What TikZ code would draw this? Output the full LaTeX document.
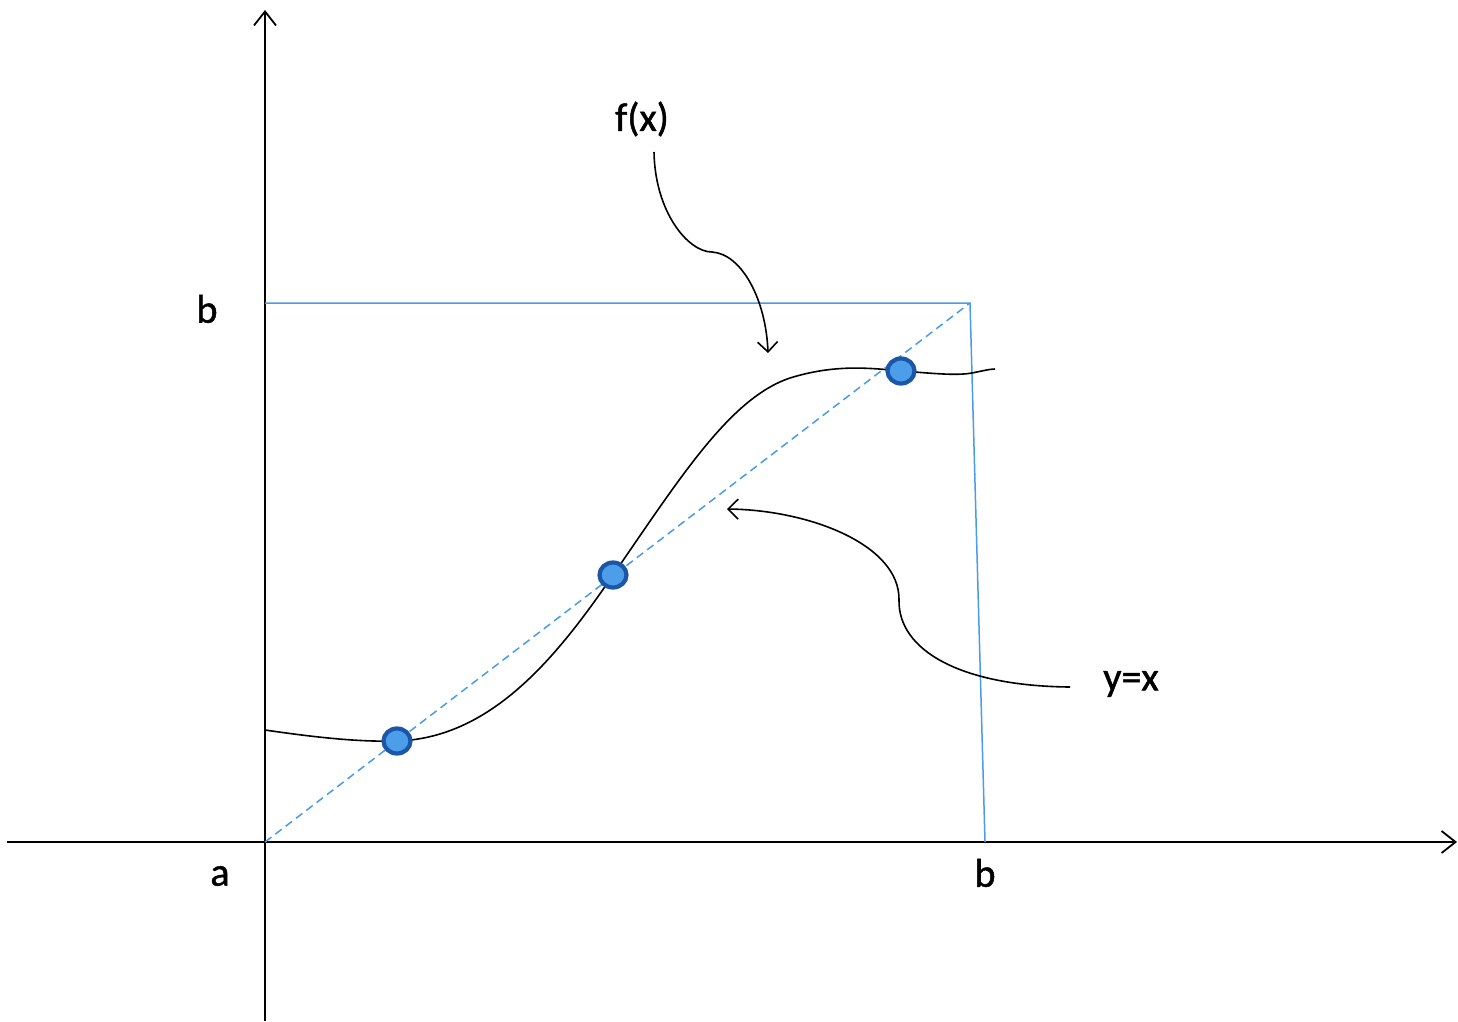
\documentclass[tikz,border=0pt]{standalone}
\usepackage{fontspec}
\setmainfont{Carlito}
\newfontfamily\lblfont{Carlito}[FakeBold=1.2]
\usepackage{tikz}
\usetikzlibrary{arrows.meta,positioning,shapes.geometric}
\definecolor{lineblue}{HTML}{4A9BE8}
\definecolor{dotfill}{HTML}{4C9EEB}
\definecolor{dotrim}{HTML}{1C56A6}
\tikzset{
  axis/.style={line width=1.8pt,-{Straight Barb[length=14pt,width=22pt,line width=1.8pt]}},
  lbl/.style={font=\lblfont\fontsize{40}{46}\selectfont,inner sep=0pt},
  pt/.style={ellipse,draw=dotrim,fill=dotfill,line width=4.2pt,minimum width=27pt,minimum height=25pt,inner sep=0pt},
  sq/.style={draw=lineblue,line width=1.5pt},
  diag/.style={draw=lineblue,line width=1.5pt,dash pattern=on 8pt off 5pt},
  fcurve/.style={line width=1.6pt},
  callout/.style={line width=1.6pt,-{Straight Barb[length=10pt,width=20pt,line width=1.6pt]}},
}

\begin{document}
\begin{tikzpicture}[x=1pt,y=-1pt]
\useasboundingbox (0,0) rectangle (1458,1021);
% axes
\coordinate (o) at (265,842);
\coordinate (xl) at (7,842);
\coordinate (xr) at (1457,842);
\coordinate (yb) at (265,1021);
\coordinate (yt) at (265,10);
\draw[axis] (xl) -- (xr);
\draw[axis] (yb) -- (yt);
% box and diagonal
\coordinate (bt) at (265,303);
\coordinate (c) at (970,303);
\coordinate (bx) at (985,842);
\draw[sq] (bt) -- (c) -- (bx);
\draw[diag] (o) -- (c);
% labels
\node[lbl] (la) at (220,876) {a};
\node[lbl] (lbx) at (985,873) {b};
\node[lbl] (lby) at (207,309) {b};
\node[lbl] (lf) at (642,119) {f(x)};
\node[lbl] (ly) at (1131,684) {y=x};
% the function
\coordinate (f0) at (265,730);
\coordinate (f1) at (995,369);
\draw[fcurve] (f0) .. controls (320,738) and (360,742) .. (397,741)
  .. controls (490,738) and (555,660) .. (613,575)
  .. controls (680,478) and (730,398) .. (790,378)
  .. controls (835,364) and (870,368) .. (901,371)
  .. controls (930,373) and (955,376) .. (972,373)
  .. controls (982,371) and (990,369) .. (f1);
% fixed points
\node[pt] (p1) at (397,741) {};
\node[pt] (p2) at (613,575) {};
\node[pt] (p3) at (901,371) {};
% callouts
\coordinate (fa) at (654,152);
\coordinate (fb) at (768,353);
\draw[callout] (fa) .. controls (655,212) and (688,252) .. (712,252)
  .. controls (742,254) and (766,300) .. (fb);
\coordinate (ya) at (1070,687);
\coordinate (yb2) at (727,509);
\draw[callout] (ya) .. controls (960,686) and (898,650) .. (899,600)
  .. controls (900,545) and (810,510) .. (yb2);
\end{tikzpicture}
\end{document}
